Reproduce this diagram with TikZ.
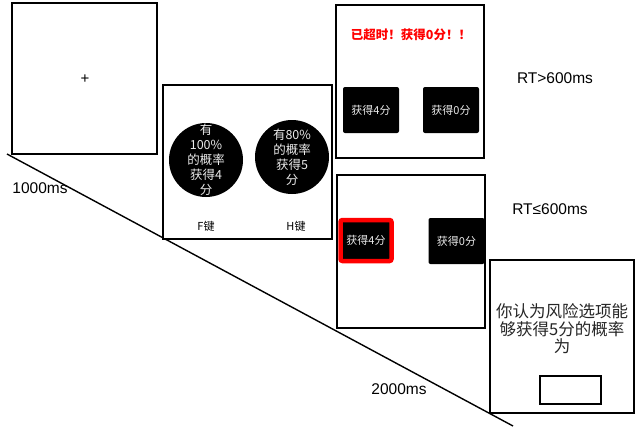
\documentclass[tikz,border=0pt]{standalone}
\usepackage{fontspec}
\setmainfont{Liberation Sans}
\newfontfamily\cjk{Noto Sans CJK SC}
\begin{document}
\begin{tikzpicture}[x=1pt,y=-1pt,
  frame/.style={draw=black, line width=1.6pt, fill=white, inner sep=0pt},
  blackbtn/.style={fill=black, rounded corners=2pt, minimum width=56pt, minimum height=46pt, inner sep=0pt,
    text=white!92!black, font=\cjk\fontsize{11}{12}\selectfont},
  chosen/.style={blackbtn, draw=red, line width=4.5pt, minimum width=51pt, minimum height=41pt},
  disc/.style={circle, fill=black, minimum size=74pt, inner sep=0pt},
  disctext/.style={text=white!92!black, align=center, inner sep=0pt, font=\cjk\fontsize{12.5}{15}\selectfont},
  keylab/.style={font=\cjk\fontsize{11}{12}\selectfont, inner sep=0pt},
  timelab/.style={font=\fontsize{15.5}{17}\selectfont, inner sep=0pt},
  timeline/.style={line width=1.4pt}]
\useasboundingbox (0,0) rectangle (637,429);
% time line
\coordinate (t0) at (7,154);
\coordinate (t1) at (513,426);
\draw[timeline] (t0) -- (t1);
% box 1: fixation
\node[frame, minimum width=145pt, minimum height=151pt] (b1) at (84.5,78.5) {};
\node[inner sep=0pt, font=\fontsize{15}{16}\selectfont] (plus) at (85,79) {+};
% box 2: options
\node[frame, minimum width=169pt, minimum height=154pt] (b2) at (247.5,162) {};
\node[disc] (c1) at (206,160) {};
\node[disctext] (c1t) at (206,160) {有\\100\%\\的概率\\获得4\\分};
\node[disc] (c2) at (292,157) {};
\node[disctext] (c2t) at (292,157) {有80\%\\的概率\\获得5\\分};
\node[keylab] (fk) at (206,226) {F键};
\node[keylab] (hk) at (296,226) {H键};
% box 3: timeout
\node[frame, minimum width=148pt, minimum height=153pt] (b3) at (410,81.5) {};
\node[inner sep=0pt, text=red, font=\cjk\bfseries\fontsize{12.5}{14}\selectfont] (warn) at (411,35) {已超时！获得0分！！};
\node[blackbtn] (g4a) at (371,110) {获得4分};
\node[blackbtn] (g0a) at (451,110) {获得0分};
% box 4: in time
\node[frame, minimum width=148pt, minimum height=153pt] (b4) at (411,251.5) {};
\node[chosen] (g4b) at (366,240.5) {获得4分};
\node[blackbtn] (g0b) at (456.5,241) {获得0分};
% box 5: rating
\node[frame, minimum width=144pt, minimum height=153pt] (b5) at (562,336.5) {};
\node[inner sep=0pt, align=center, text=black!85, font=\cjk\fontsize{16.5}{17.5}\selectfont] (q) at (562,329) {你认为风险选项能\\够获得5分的概率\\为};
\node[draw=black, line width=1.4pt, minimum width=61pt, minimum height=28pt, inner sep=0pt] (ans) at (570.5,390) {};
% labels
\node[timelab] (l1) at (40,188) {1000ms};
\node[timelab] (l2) at (399,389) {2000ms};
\node[timelab] (r1) at (555,78) {RT>600ms};
\node[timelab] (r2) at (550,209) {RT≤600ms};
\end{tikzpicture}
\end{document}
